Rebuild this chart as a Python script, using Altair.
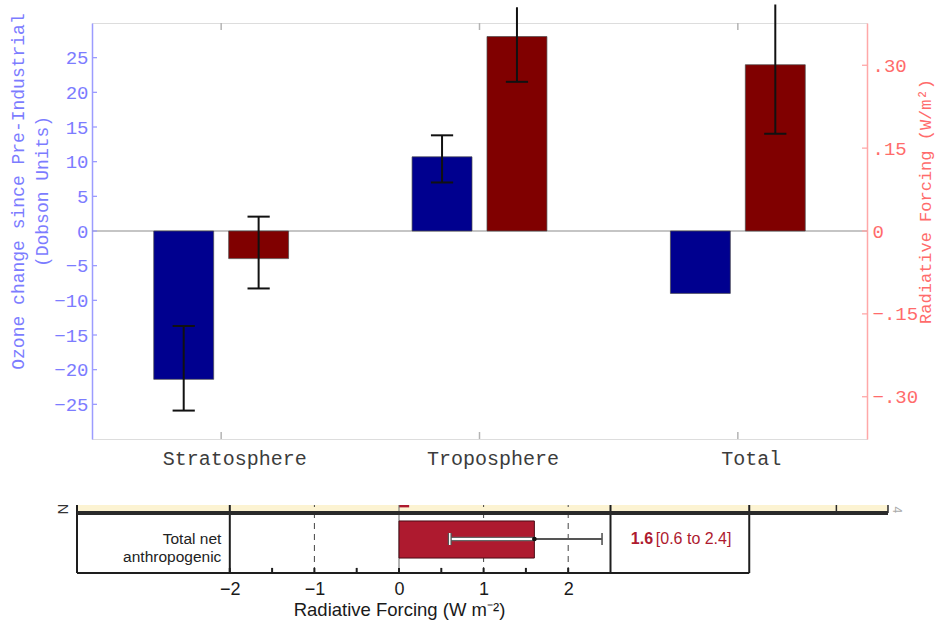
import json
import altair as alt
import pandas as pd

# ---------------- data ----------------
regions = ["Stratosphere", "Troposphere", "Total"]
ozone_change = [-21.4, 10.7, -9.0]            # Dobson units
ozone_err_low = [-25.9, 7.0, None]
ozone_err_high = [-13.7, 13.8, None]
forcing = [-0.050, 0.352, 0.301]              # W/m2
forcing_err_low = [-0.104, 0.270, 0.176]
forcing_err_high = [0.026, 0.405, 0.410]

ozone_ticks = [-25, -20, -15, -10, -5, 0, 5, 10, 15, 20, 25]
forcing_ticks = [-0.30, -0.15, 0.0, 0.15, 0.30]

net_label = "Total net\nanthropogenic"
net_forcing = 1.6
net_low = 0.6
net_high = 2.4
rf_ticks = [-2, -1, 0, 1, 2]
rf_minor = [-2, -1.5, -1, -0.5, 0, 0.5, 1, 1.5, 2]
rf_dashed = [-1, 1, 2]

# ---------------- layout / style constants ----------------
W, H = 775, 416
X_DOM = [0.5, 3.5]
OZ_DOM = [-30, 30]
RF_DOM = [-0.3765, 0.3765]
BAR_IN, BAR_OUT = 0.029, 0.261
CAP = 0.043

BX_DOM = [-2, 2]
BX_RANGE = [137.8, 476.2]
BY_RANGE = [550, 482]
PANEL_L, PANEL_R, SEP, STRIP_MID, STRIP_R = -3.806, 4.14, 2.5, 5.17, 5.78
STRIP_Y0 = 0.882
BAR_Y0, BAR_Y1 = 0.22, 0.765
ROW_Y = 0.5
CAP_H = 0.088
LABEL_COL = 2.74

MONO = "Courier New, Liberation Mono, monospace"
NARROW = "Liberation Sans Narrow, Arial Narrow, Liberation Sans, sans-serif"
BLUE, RED = "#00008f", "#800000"
BLUE_TXT, BLUE_LINE = "#7c7cff", "#9c9cff"
RED_TXT, RED_LINE = "#ff6b6b", "#ffa8a8"
GRAY = "#b4b4b4"
CRIMSON = "#ae1a2f"


def sx():
    return alt.Scale(domain=X_DOM, nice=False, zero=False)


def sl():
    return alt.Scale(domain=OZ_DOM, nice=False, zero=False)


def sr():
    return alt.Scale(domain=RF_DOM, nice=False, zero=False)


def sbx():
    return alt.Scale(domain=BX_DOM, range=BX_RANGE, nice=False, zero=False)


def sby():
    return alt.Scale(domain=[0, 1], range=BY_RANGE, nice=False, zero=False)


def X(f, axis=None):
    return alt.X(f"{f}:Q", scale=sx(), axis=axis)


def YL(f, axis=None):
    return alt.Y(f"{f}:Q", scale=sl(), axis=axis)


def YR(f, axis=None):
    return alt.Y(f"{f}:Q", scale=sr(), axis=axis)


def BX(f, axis=None):
    return alt.X(f"{f}:Q", scale=sbx(), axis=axis)


def BY(f):
    return alt.Y(f"{f}:Q", scale=sby(), axis=None)


pos = [i + 1 for i in range(len(regions))]

blue = pd.DataFrame({"region": regions, "pos": pos, "v": ozone_change,
                     "lo": ozone_err_low, "hi": ozone_err_high})
blue["x1"] = blue.pos - BAR_OUT
blue["x2"] = blue.pos - BAR_IN
blue["xc"] = (blue.x1 + blue.x2) / 2

red = pd.DataFrame({"region": regions, "pos": pos, "v": forcing,
                    "lo": forcing_err_low, "hi": forcing_err_high})
red["x1"] = red.pos + BAR_IN
red["x2"] = red.pos + BAR_OUT
red["xc"] = (red.x1 + red.x2) / 2

blue_e = blue.dropna(subset=["lo", "hi"]).copy()
red_e = red.dropna(subset=["lo", "hi"]).copy()


def caps(df, top):
    rows = []
    for _, r in df.iterrows():
        rows.append({"cl": r.xc - CAP, "cr": r.xc + CAP, "y": r.lo})
        if r.hi <= top:
            rows.append({"cl": r.xc - CAP, "cr": r.xc + CAP, "y": r.hi})
    return pd.DataFrame(rows)


blue_caps = caps(blue_e, OZ_DOM[1])
red_caps = caps(red_e, RF_DOM[1])

# ---------------- axes ----------------
cat_axis = alt.Axis(orient="bottom", values=pos,
                    labelExpr=f"{json.dumps(regions)}[datum.value - 1]",
                    tickSize=0, domain=False, grid=False, labelFlush=False,
                    labelOverlap=False, labelFont=MONO, labelFontSize=20,
                    labelColor="#3c3c3c", labelPadding=9, labelOffset=13, title=None)

left_axis = alt.Axis(orient="left", values=ozone_ticks, tickSize=0, grid=False,
                     domainColor=BLUE_LINE, domainWidth=1.5, labelColor=BLUE_TXT,
                     labelFont=MONO, labelFontSize=19, labelPadding=4,
                     labelFlush=False, labelOverlap=False,
                     title=["Ozone change since Pre-Industrial", "(Dobson Units)"],
                     titleColor=BLUE_TXT, titleFont=MONO, titleFontSize=18,
                     titleFontWeight="normal", titleAngle=270, titleBaseline="middle",
                     titleAlign="center", titleX=-74, titleY=168, titleLineHeight=24)

right_axis = alt.Axis(orient="right", values=forcing_ticks, tickSize=0, grid=False,
                      domainColor=RED_LINE, domainWidth=1.5, labelColor=RED_TXT,
                      labelFont=MONO, labelFontSize=19, labelPadding=5,
                      labelFlush=False, labelOverlap=False,
                      labelExpr="datum.value == 0 ? '0' : replace(format(datum.value, '.2f'), '0.', '.')",
                      title="Radiative Forcing (W/m²)", titleColor=RED_TXT,
                      titleFont=MONO, titleFontSize=17, titleFontWeight="normal",
                      titleAngle=270, titleBaseline="middle", titleAlign="center",
                      titleX=58, titleY=178)

rf_axis = alt.Axis(orient="bottom", offset=134, values=rf_ticks, tickSize=0,
                   domain=False, grid=False, labelFlush=False, labelOverlap=False,
                   labelFont=NARROW, labelFontSize=18, labelColor="#1a1a1a",
                   labelPadding=7, format="d",
                   title="Radiative Forcing  (W m⁻²)", titleFont=NARROW,
                   titleFontSize=18.5, titleFontWeight="normal", titleColor="#1a1a1a",
                   titlePadding=2)

# ---------------- top panel layers ----------------
zero_df = pd.DataFrame({"x1": [X_DOM[0]], "x2": [X_DOM[1]], "y": [0]})
zero_line = alt.Chart(zero_df).mark_rule(color="#8c8c8c", strokeWidth=1.2).encode(
    x=X("x1"), x2="x2:Q", y=YL("y"))

grp_df = pd.DataFrame({"pos": pos})
top_ticks = alt.Chart(grp_df).mark_rule(color=GRAY, strokeWidth=1.5).encode(
    x=X("pos"), y=alt.value(0), y2=alt.value(7))
bot_ticks = alt.Chart(grp_df).mark_rule(color=GRAY, strokeWidth=1.5).encode(
    x=X("pos"), y=alt.value(H), y2=alt.value(H - 7))

lt_df = pd.DataFrame({"t": ozone_ticks})
left_ticks = alt.Chart(lt_df).mark_rule(color=BLUE_LINE, strokeWidth=1.3).encode(
    y=YL("t"), x=alt.value(0), x2=alt.value(5))
rt_df = pd.DataFrame({"t": forcing_ticks})
right_ticks = alt.Chart(rt_df).mark_rule(color=RED_LINE, strokeWidth=1.3).encode(
    y=YR("t"), x=alt.value(W), x2=alt.value(W - 5))

blue_bars = alt.Chart(blue).mark_rect(fill=BLUE, stroke="#4a4a4a", strokeWidth=0.7).encode(
    x=X("x1", cat_axis), x2="x2:Q", y=YL("v", left_axis), y2=alt.Y2Datum(0))
red_bars = alt.Chart(red).mark_rect(fill=RED, stroke="#4a4a4a", strokeWidth=0.7).encode(
    x=X("x1"), x2="x2:Q", y=YR("v", right_axis), y2=alt.Y2Datum(0))

blue_err = alt.Chart(blue_e).mark_rule(color="#111111", strokeWidth=2).encode(
    x=X("xc"), y=YL("lo"), y2="hi:Q")
blue_cap = alt.Chart(blue_caps).mark_rule(color="#111111", strokeWidth=2).encode(
    x=X("cl"), x2="cr:Q", y=YL("y"))
red_err = alt.Chart(red_e).mark_rule(color="#111111", strokeWidth=2).encode(
    x=X("xc"), y=YR("lo"), y2="hi:Q")
red_cap = alt.Chart(red_caps).mark_rule(color="#111111", strokeWidth=2).encode(
    x=X("cl"), x2="cr:Q", y=YR("y"))

# ---------------- bottom panel layers ----------------
strip_df = pd.DataFrame({"x1": [PANEL_L], "x2": [STRIP_R], "y1": [STRIP_Y0], "y2": [1.0]})
strip = alt.Chart(strip_df).mark_rect(fill="#fcf3d2").encode(
    x=BX("x1"), x2="x2:Q", y=BY("y1"), y2="y2:Q")

red_bit_df = pd.DataFrame({"x1": [0.0], "x2": [0.12], "y1": [0.965], "y2": [1.0]})
red_bit = alt.Chart(red_bit_df).mark_rect(fill=CRIMSON).encode(
    x=BX("x1"), x2="x2:Q", y=BY("y1"), y2="y2:Q")

dash_df = pd.DataFrame({"x": rf_dashed, "y1": 0.0, "y2": 1.0})
dashed = alt.Chart(dash_df).mark_rule(color="#444444", strokeWidth=1, strokeDash=[6, 5]).encode(
    x=BX("x"), y=BY("y1"), y2="y2:Q")

zero_v_df = pd.DataFrame({"x": [0.0], "y1": [0.0], "y2": [1.0]})
zero_v = alt.Chart(zero_v_df).mark_rule(color="#666666", strokeWidth=1).encode(
    x=BX("x"), y=BY("y1"), y2="y2:Q")

solid_df = pd.DataFrame({"x": [PANEL_L, -2, SEP, PANEL_R], "y1": 0.0, "y2": 1.0})
solid_v = alt.Chart(solid_df).mark_rule(color="#1e1e1e", strokeWidth=2).encode(
    x=BX("x"), y=BY("y1"), y2="y2:Q")

strip_v_df = pd.DataFrame({"x": [STRIP_MID, STRIP_R], "y1": STRIP_Y0, "y2": 1.0})
strip_v = alt.Chart(strip_v_df).mark_rule(color="#2a2a2a", strokeWidth=1.5).encode(
    x=BX("x"), y=BY("y1"), y2="y2:Q")

thick_df = pd.DataFrame({"x1": [PANEL_L], "x2": [STRIP_R], "y": [STRIP_Y0]})
thick = alt.Chart(thick_df).mark_rule(color="#2a2a2a", strokeWidth=4).encode(
    x=BX("x1"), x2="x2:Q", y=BY("y"))

base_df = pd.DataFrame({"x1": [PANEL_L], "x2": [PANEL_R], "y": [0.0]})
base_line = alt.Chart(base_df).mark_rule(color="#1e1e1e", strokeWidth=2).encode(
    x=BX("x1", rf_axis), x2="x2:Q", y=BY("y"))

minor_df = pd.DataFrame({"x": rf_minor, "y1": 0.0, "y2": 0.075})
minor = alt.Chart(minor_df).mark_rule(color="#1e1e1e", strokeWidth=2).encode(
    x=BX("x"), y=BY("y1"), y2="y2:Q")

net_df = pd.DataFrame({"label": [net_label], "v": [net_forcing], "lo": [net_low],
                       "hi": [net_high], "zero": [0.0], "y1": [BAR_Y0], "y2": [BAR_Y1],
                       "y": [ROW_Y], "c1": [ROW_Y - CAP_H], "c2": [ROW_Y + CAP_H],
                       "lx": [-2.1], "tx": [LABEL_COL]})
net_df["val_txt"] = net_df.v.map(lambda v: f"{v:.1f}")
net_df["rng_txt"] = net_df.apply(lambda r: f"[{r.lo:.1f} to {r.hi:.1f}]", axis=1)

net_bar = alt.Chart(net_df).mark_rect(fill=CRIMSON, stroke="#4a0c16", strokeWidth=1).encode(
    x=BX("zero"), x2="v:Q", y=BY("y1"), y2="y2:Q")
whisk = alt.Chart(net_df).mark_rule(color="#555555", strokeWidth=2).encode(
    x=BX("lo"), x2="hi:Q", y=BY("y"))
whisk_in_g = alt.Chart(net_df).mark_rule(color="#666666", strokeWidth=4.5).encode(
    x=BX("lo"), x2="v:Q", y=BY("y"))
whisk_in = alt.Chart(net_df).mark_rule(color="#ffffff", strokeWidth=2).encode(
    x=BX("lo"), x2="v:Q", y=BY("y"))
cap_lo = alt.Chart(net_df).mark_rule(color="#555555", strokeWidth=4).encode(
    x=BX("lo"), y=BY("c1"), y2="c2:Q")
cap_lo_in = alt.Chart(net_df).mark_rule(color="#ffffff", strokeWidth=1.4).encode(
    x=BX("lo"), y=BY("c1"), y2="c2:Q")
cap_hi = alt.Chart(net_df).mark_rule(color="#555555", strokeWidth=1.6).encode(
    x=BX("hi"), y=BY("c1"), y2="c2:Q")
dot = alt.Chart(net_df).mark_point(filled=True, color="#111111", size=22, opacity=1).encode(
    x=BX("v"), y=BY("y"))

row_label = alt.Chart(net_df).mark_text(align="right", baseline="middle", font=NARROW,
                                        fontSize=15.5, color="#222222", lineBreak="\n",
                                        lineHeight=18).encode(
    x=BX("lx"), y=BY("y"), text="label:N")
val_text = alt.Chart(net_df).mark_text(align="left", baseline="middle", font=NARROW,
                                       fontSize=16, fontWeight="bold", color=CRIMSON).encode(
    x=BX("tx"), y=BY("y"), text="val_txt:N")
rng_text = alt.Chart(net_df).mark_text(align="left", baseline="middle", font=NARROW,
                                       fontSize=16, color=CRIMSON, dx=25).encode(
    x=BX("tx"), y=BY("y"), text="rng_txt:N")

mark_df = pd.DataFrame({"x": [-3.97, 5.89], "y": [0.94, 0.93], "t": ["N", "4"],
                        "c": ["#333333", "#aaaaaa"], "s": [15, 12]})
edge_marks = alt.Chart(mark_df).mark_text(angle=90, font=NARROW,
                                          baseline="middle", align="center").encode(
    x=BX("x"), y=BY("y"), text="t:N", color=alt.Color("c:N", scale=None, legend=None),
    size=alt.Size("s:Q", scale=None, legend=None))

chart = alt.layer(
    zero_line, blue_bars, red_bars, blue_err, blue_cap, red_err, red_cap,
    top_ticks, bot_ticks, left_ticks, right_ticks,
    strip, red_bit, dashed, zero_v, solid_v, strip_v, thick, base_line, minor,
    net_bar, whisk, whisk_in_g, whisk_in, cap_lo, cap_lo_in, cap_hi, dot,
    row_label, val_text, rng_text, edge_marks,
).resolve_scale(x="independent", y="independent").properties(
    width=W, height=H,
    padding={"left": 92, "top": 23, "right": 68, "bottom": 183},
    autosize=alt.AutoSizeParams(type="none"),
).configure_view(stroke=GRAY, strokeWidth=2).configure(background="white")

chart.save("out.html", embed_options={"renderer": "svg", "actions": False})
